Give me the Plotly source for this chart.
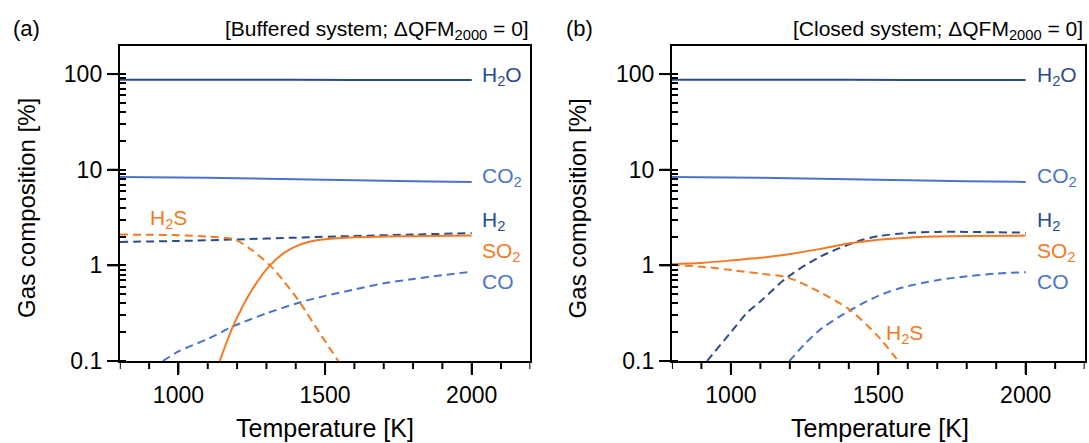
import math
import plotly.graph_objects as go

# ---------------- data ----------------
# Panel (a): buffered system
a_h2o_T = [800, 1200, 1600, 2000]
a_h2o = [87.5, 87.3, 87.0, 86.8]
a_co2_T = [800, 1000, 1200, 1400, 1600, 1800, 2000]
a_co2 = [8.4, 8.3, 8.15, 7.95, 7.75, 7.6, 7.45]
a_h2_T = [800, 1000, 1200, 1400, 1600, 1800, 2000]
a_h2 = [1.76, 1.8, 1.87, 1.95, 2.03, 2.1, 2.18]
a_so2_T = [1141, 1186, 1250, 1312, 1360, 1404, 1450, 1500, 1600, 1700, 1800, 2000]
a_so2 = [0.1, 0.23, 0.55, 1.0, 1.35, 1.6, 1.78, 1.88, 1.97, 2.0, 2.02, 2.05]
a_h2s_T = [800, 900, 1000, 1100, 1193, 1250, 1312, 1360, 1414, 1480, 1545]
a_h2s = [2.1, 2.09, 2.07, 2.0, 1.86, 1.45, 1.0, 0.68, 0.41, 0.2, 0.1]
a_co_T = [947, 1000, 1100, 1186, 1300, 1414, 1500, 1600, 1700, 1800, 1900, 2000]
a_co = [0.1, 0.126, 0.17, 0.23, 0.315, 0.41, 0.48, 0.56, 0.65, 0.72, 0.79, 0.86]

# Panel (b): closed system
b_h2o_T = [800, 1200, 1600, 2000]
b_h2o = [87.5, 87.3, 87.0, 86.8]
b_co2_T = [800, 1000, 1200, 1400, 1600, 1800, 2000]
b_co2 = [8.4, 8.3, 8.15, 7.95, 7.75, 7.6, 7.45]
b_so2_T = [800, 900, 1007, 1100, 1191, 1300, 1405, 1500, 1600, 1687, 1800, 2000]
b_so2 = [1.03, 1.06, 1.13, 1.2, 1.3, 1.48, 1.7, 1.85, 1.95, 2.0, 2.03, 2.05]
b_h2s_T = [800, 900, 1007, 1100, 1191, 1300, 1405, 1500, 1568]
b_h2s = [1.01, 0.97, 0.89, 0.82, 0.75, 0.53, 0.34, 0.18, 0.1]
b_h2_T = [919, 1000, 1055, 1100, 1191, 1300, 1429, 1500, 1600, 1700, 1800, 1900, 2000]
b_h2 = [0.1, 0.2, 0.32, 0.42, 0.75, 1.22, 1.78, 2.02, 2.18, 2.24, 2.24, 2.22, 2.2]
b_co_T = [1198, 1250, 1300, 1405, 1500, 1575, 1700, 1802, 1900, 2000]
b_co = [0.1, 0.15, 0.21, 0.34, 0.48, 0.58, 0.7, 0.77, 0.82, 0.85]

# axis ticks
x_major_ticks = [1000, 1500, 2000]
x_minor_ticks = [800, 900, 1100, 1200, 1300, 1400, 1600, 1700, 1800, 1900, 2100, 2200]
y_major_ticks = [0.1, 1, 10, 100]
x_range = [800, 2200]
y_log_range = [-1, 2.293]

NAVY = "#2b4b8d"
BLUE = "#4a74c8"
ORANGE = "#f37a22"
FONT = "Liberation Sans, Arial, Helvetica, sans-serif"
CLEAR = "rgba(0,0,0,0)"

fig = go.Figure()

def add(T, v, color, dash, xa, ya):
    fig.add_trace(go.Scatter(x=T, y=v, mode="lines", xaxis=xa, yaxis=ya,
                             line=dict(color=color, width=2, dash=dash, shape="spline", smoothing=0.8),
                             showlegend=False, hoverinfo="skip"))

DASH = "8px,5px"
# panel a
add(a_h2o_T, a_h2o, NAVY, "solid", "x", "y")
add(a_co2_T, a_co2, BLUE, "solid", "x", "y")
add(a_h2_T, a_h2, NAVY, DASH, "x", "y")
add(a_co_T, a_co, BLUE, DASH, "x", "y")
add(a_h2s_T, a_h2s, ORANGE, DASH, "x", "y")
add(a_so2_T, a_so2, ORANGE, "solid", "x", "y")
# panel b
add(b_h2o_T, b_h2o, NAVY, "solid", "x2", "y2")
add(b_co2_T, b_co2, BLUE, "solid", "x2", "y2")
add(b_h2_T, b_h2, NAVY, DASH, "x2", "y2")
add(b_co_T, b_co, BLUE, DASH, "x2", "y2")
add(b_h2s_T, b_h2s, ORANGE, DASH, "x2", "y2")
add(b_so2_T, b_so2, ORANGE, "solid", "x2", "y2")

ydom = [0.185, 0.896]
xdom_a = [0.110, 0.487]
xdom_b = [0.617, 0.996]

def xaxis(dom, anchor):
    return dict(domain=dom, anchor=anchor, range=x_range, automargin=False, fixedrange=True,
                tickmode="array", tickvals=x_major_ticks,
                ticks="outside", ticklen=12, tickwidth=2, tickcolor="black",
                showline=True, linewidth=2, linecolor="black", mirror=True,
                showgrid=True, gridcolor=CLEAR, zeroline=False,
                tickfont=dict(family=FONT, size=23, color="black"))

def yaxis(anchor):
    return dict(domain=ydom, anchor=anchor, type="log", range=y_log_range, automargin=False,
                fixedrange=True, tickmode="linear", tick0=0, dtick=1,
                ticks="outside", ticklen=11, tickwidth=2, tickcolor="black",
                showline=True, linewidth=2, linecolor="black", mirror=True,
                showgrid=True, gridcolor=CLEAR, zeroline=False,
                tickfont=dict(family=FONT, size=23, color="black"),
                minor=dict(dtick="D1", ticks="inside", ticklen=6, tickwidth=2,
                           tickcolor="black", showgrid=True, gridcolor=CLEAR))

fig.update_layout(
    template="none",
    width=1089, height=443, autosize=False, margin=dict(l=0, r=0, t=0, b=0, pad=0),
    paper_bgcolor="white", plot_bgcolor="white",
    font=dict(family=FONT, color="black"),
    xaxis=xaxis(xdom_a, "y"),
    yaxis=yaxis("x"),
    xaxis2=xaxis(xdom_b, "y2"),
    yaxis2=yaxis("x2"),
    showlegend=False,
    dragmode=False,
    hovermode=False,
)

# outward tick marks, also drawn as shapes tied to the axes
shapes = []
for xr, yr, xd in [("x", "y", xdom_a), ("x2", "y2", xdom_b)]:
    for t in x_major_ticks + x_minor_ticks:
        ln = 12 if t in x_major_ticks else 7
        shapes.append(dict(type="line", xref=xr, yref="paper", ysizemode="pixel",
                           yanchor=ydom[0], x0=t, x1=t, y0=-1, y1=-1 - ln,
                           line=dict(color="black", width=2), layer="above"))
    for v in y_major_ticks:
        frac = (math.log10(v) - y_log_range[0]) / (y_log_range[1] - y_log_range[0])
        shapes.append(dict(type="line", xref="paper", yref=yr + " domain", xsizemode="pixel",
                           xanchor=xd[0], x0=-1, x1=-12, y0=frac, y1=frac,
                           line=dict(color="black", width=2), layer="above"))
fig.update_layout(shapes=shapes)

ann = []
def lab(text, x, y, color, xr, yr, size=21, xanchor="left"):
    ann.append(dict(text=text, x=x, y=y, xref=xr, yref=yr, showarrow=False,
                    xanchor=xanchor, yanchor="middle",
                    font=dict(family=FONT, size=size, color=color)))

for xr, yr in [("x", "y"), ("x2", "y2")]:
    lab("H<sub>2</sub>O", 2030, 1.98, NAVY, xr, yr)
    lab("CO<sub>2</sub>", 2030, 0.92, BLUE, xr, yr)
    lab("H<sub>2</sub>", 2030, 0.46, NAVY, xr, yr)
    lab("SO<sub>2</sub>", 2030, 0.14, ORANGE, xr, yr)
    lab("CO", 2030, -0.165, BLUE, xr, yr)
lab("H<sub>2</sub>S", 896, 0.48, ORANGE, "x", "y")
lab("H<sub>2</sub>S", 1520, -0.72, ORANGE, "x2", "y2")

def paper(text, x, y, size, xanchor="left", angle=0):
    ann.append(dict(text=text, x=x, y=y, xref="paper", yref="paper", showarrow=False,
                    xanchor=xanchor, yanchor="middle", textangle=angle,
                    font=dict(family=FONT, size=size, color="black")))

paper("(a)", 0.010, 0.936, 22)
paper("(b)", 0.518, 0.936, 22)
paper("[Buffered system; ΔQFM<sub>2000</sub> = 0]", 0.4876, 0.932, 21, "right")
paper("[Closed system; ΔQFM<sub>2000</sub> = 0]", 0.9963, 0.932, 21, "right")
paper("Temperature [K]", 0.2984, 0.034, 25, "center")
paper("Temperature [K]", 0.808, 0.034, 25, "center")
paper("Gas composition [%]", 0.0245, 0.53, 24, "center", -90)
paper("Gas composition [%]", 0.530, 0.53, 24, "center", -90)

fig.update_layout(annotations=ann)
fig.write_html("out.html", config={"staticPlot": True, "displayModeBar": False})
